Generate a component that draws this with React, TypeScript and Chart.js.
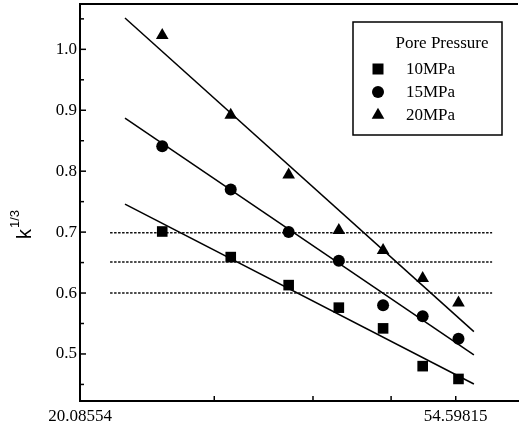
import { useEffect, useRef } from "react";
import { Chart, registerables } from "chart.js";

Chart.register(...registerables);

// ---- data ----
const confiningPressure = [25, 30, 35, 40, 45, 50, 55];
const k10MPa = [0.701, 0.659, 0.613, 0.576, 0.542, 0.480, 0.459];
const k15MPa = [0.841, 0.770, 0.700, 0.653, 0.580, 0.562, 0.525];
const k20MPa = [1.023, 0.892, 0.794, 0.703, 0.670, 0.624, 0.584];

const fitX = [22.64, 57.3];
const fit10 = [0.7458, 0.4507];
const fit15 = [0.8869, 0.4984];
const fit20 = [1.0514, 0.5366];

const refX = [21.76, 60.15];
const refLevels = [0.699, 0.651, 0.6];

const xTickValues = [20.08554, 28.71369, 37.34184, 45.97, 54.59815];
const xTickLabels = ["20.08554", "", "", "", "54.59815"];
const yMajorTicks = [0.5, 0.6, 0.7, 0.8, 0.9, 1.0];
const yMinorTicks = [0.45, 0.55, 0.65, 0.75, 0.85, 0.95, 1.05];

const legendTitle = "Pore Pressure";
const seriesLabels = ["10MPa", "15MPa", "20MPa"];
const yTitleMain = "k";
const yTitleSup = "1/3";

const SERIF = "'Liberation Serif', 'Times New Roman', serif";
const SANS = "'Liberation Sans', Arial, sans-serif";

function drawMarker(ctx: CanvasRenderingContext2D, kind: string, x: number, y: number) {
  ctx.beginPath();
  if (kind === "rect") {
    ctx.rect(x - 5.5, y - 5.5, 11, 11);
  } else if (kind === "circle") {
    ctx.arc(x, y, 6, 0, Math.PI * 2);
  } else {
    const r = 7.3;
    ctx.moveTo(x, y - r);
    ctx.lineTo(x + r * 0.866, y + r / 2);
    ctx.lineTo(x - r * 0.866, y + r / 2);
    ctx.closePath();
  }
  ctx.fill();
}

const framePlugin = {
  id: "frameDecor",
  afterDraw(chart: any) {
    const ctx: CanvasRenderingContext2D = chart.ctx;
    const { left, right, top, bottom } = chart.chartArea;
    const xs = chart.scales.x;
    const ys = chart.scales.y;
    ctx.save();
    ctx.strokeStyle = "#000";
    ctx.fillStyle = "#000";
    // top border
    ctx.lineWidth = 2;
    ctx.beginPath();
    ctx.moveTo(left - 1, top);
    ctx.lineTo(right, top);
    ctx.stroke();
    // y ticks
    ctx.lineWidth = 1.5;
    yMajorTicks.forEach((v) => {
      const p = ys.getPixelForValue(v);
      ctx.beginPath();
      ctx.moveTo(left, p);
      ctx.lineTo(left + 6, p);
      ctx.stroke();
    });
    yMinorTicks.forEach((v) => {
      const p = ys.getPixelForValue(v);
      ctx.beginPath();
      ctx.moveTo(left, p);
      ctx.lineTo(left + 4, p);
      ctx.stroke();
    });
    // x ticks
    xTickValues.forEach((v) => {
      const p = xs.getPixelForValue(v);
      ctx.beginPath();
      ctx.moveTo(p, bottom);
      ctx.lineTo(p, bottom - 5);
      ctx.stroke();
    });
    // y title
    ctx.save();
    ctx.translate(31, 239);
    ctx.rotate(-Math.PI / 2);
    ctx.textAlign = "left";
    ctx.textBaseline = "alphabetic";
    ctx.font = `20px ${SANS}`;
    ctx.fillText(yTitleMain, 0, 0);
    const kw = ctx.measureText(yTitleMain).width;
    ctx.font = `13px ${SANS}`;
    ctx.fillText(yTitleSup, kw + 1, -12);
    ctx.restore();
    // legend
    const bx = 353, by = 22, bw = 149, bh = 113;
    ctx.fillStyle = "#fff";
    ctx.fillRect(bx, by, bw, bh);
    ctx.fillStyle = "#000";
    ctx.lineWidth = 1.5;
    ctx.strokeRect(bx, by, bw, bh);
    ctx.font = `17px ${SERIF}`;
    ctx.textBaseline = "middle";
    ctx.textAlign = "center";
    ctx.fillText(legendTitle, 442, 44);
    ctx.textAlign = "left";
    const kinds = ["rect", "circle", "triangle"];
    seriesLabels.forEach((lab, i) => {
      const yy = 69 + i * 23;
      drawMarker(ctx, kinds[i], 378, yy);
      ctx.fillText(lab, 406, yy + 1);
    });
    ctx.restore();
  },
};

export default function App() {
  const ref = useRef<HTMLCanvasElement | null>(null);
  useEffect(() => {
    document.body.style.margin = "0";
    const canvas = ref.current;
    if (!canvas) return;
    const pts = (ys: number[]) => confiningPressure.map((x, i) => ({ x, y: ys[i] }));
    const line = (xs: number[], ys: number[]) => xs.map((x, i) => ({ x, y: ys[i] }));
    const fitDs = (ys: number[]) => ({
      data: line(fitX, ys),
      showLine: true,
      borderColor: "#000",
      borderWidth: 1.5,
      pointRadius: 0,
      order: 2,
    });
    const refDs = (lvl: number) => ({
      data: line(refX, [lvl, lvl]),
      showLine: true,
      borderColor: "#111",
      borderWidth: 1.5,
      borderDash: [2.5, 1.5],
      pointRadius: 0,
      order: 3,
    });
    const ptDs = (ys: number[], style: string, r: number) => ({
      data: pts(ys),
      showLine: false,
      pointStyle: style,
      pointRadius: r,
      pointHoverRadius: r,
      backgroundColor: "#000",
      borderColor: "#000",
      borderWidth: 0,
      order: 1,
    });
    const chart = new Chart(canvas, {
      type: "scatter",
      data: {
        datasets: [
          ...refLevels.map(refDs),
          fitDs(fit10),
          fitDs(fit15),
          fitDs(fit20),
          ptDs(k10MPa, "rect", 7.5),
          ptDs(k15MPa, "circle", 6),
          ptDs(k20MPa, "triangle", 7.3),
        ] as any,
      },
      options: {
        animation: false,
        responsive: false,
        layout: { autoPadding: false, padding: { top: 4, right: 1, left: 0, bottom: 0 } },
        plugins: { legend: { display: false }, tooltip: { enabled: false } },
        scales: {
          x: {
            type: "logarithmic",
            min: 20.08554,
            max: 64.44,
            afterBuildTicks: (s: any) => {
              s.ticks = xTickValues.map((v) => ({ value: v }));
            },
            afterFit: (s: any) => {
              s.height = 29;
              s.paddingLeft = 0;
              s.paddingRight = 0;
              s.paddingTop = 0;
              s.paddingBottom = 0;
            },
            ticks: {
              callback: (_v: any, i: number) => xTickLabels[i],
              autoSkip: false,
              maxRotation: 0,
              padding: 5,
              color: "#000",
              font: { family: SERIF, size: 17 },
            },
            grid: { display: false, drawTicks: false },
            border: { display: true, width: 2, color: "#000" },
          },
          y: {
            type: "linear",
            min: 0.4228,
            max: 1.0744,
            afterBuildTicks: (s: any) => {
              s.ticks = yMajorTicks.map((v) => ({ value: v }));
            },
            afterFit: (s: any) => {
              s.width = 80;
              s.paddingLeft = 0;
              s.paddingRight = 0;
              s.paddingTop = 0;
              s.paddingBottom = 0;
            },
            ticks: {
              callback: (v: any) => Number(v).toFixed(1),
              padding: 3,
              color: "#000",
              font: { family: SERIF, size: 17 },
            },
            grid: { display: false, drawTicks: false },
            border: { display: true, width: 2, color: "#000" },
          },
        },
      },
      plugins: [framePlugin],
    });
    return () => chart.destroy();
  }, []);
  return (
    <div style={{ width: 519, height: 430 }}>
      <canvas ref={ref} width={519} height={430} style={{ display: "block" }} />
    </div>
  );
}
